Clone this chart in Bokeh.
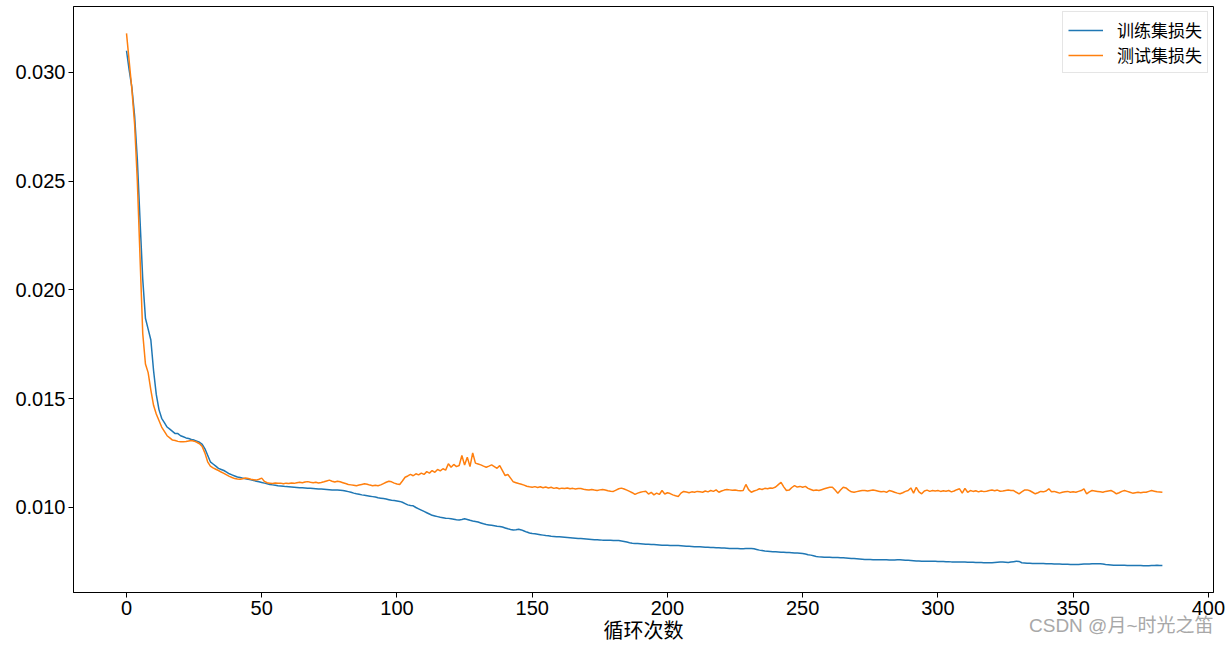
from bokeh.plotting import figure
from bokeh.models import Range1d, FixedTicker, NumeralTickFormatter, Title, Legend, LegendItem
from bokeh.embed import file_html
from bokeh.resources import INLINE

series_names = ["训练集损失", "测试集损失"]
x_label = "循环次数"
watermark = "CSDN @月~时光之笛"
x_ticks = [0, 50, 100, 150, 200, 250, 300, 350, 400]
y_ticks = [0.010, 0.015, 0.020, 0.025, 0.030]

train_loss = [
    0.0310, 0.0301, 0.0293, 0.0280, 0.0260, 0.0232, 0.0205, 0.0187, 0.0182, 0.0177,
    0.0163, 0.0152, 0.0145, 0.0141, 0.0139, 0.0137, 0.0136, 0.0135, 0.0134, 0.0134,
    0.0133, 0.01325, 0.0132, 0.01317, 0.01313, 0.0131, 0.01305, 0.0130, 0.0129, 0.0127,
    0.0124, 0.0121, 0.0120, 0.0119, 0.0118, 0.01175, 0.0117, 0.01163, 0.01155, 0.0115,
    0.01145, 0.0114, 0.01138, 0.01135, 0.01132, 0.0113, 0.01127, 0.01124, 0.01121, 0.01118,
    0.01115, 0.01112, 0.01109, 0.01106, 0.01104, 0.01102, 0.01100, 0.01099, 0.01098, 0.01096,
    0.01095, 0.01094, 0.01093, 0.01092, 0.01091, 0.01091, 0.01090, 0.01089, 0.01088, 0.01087,
    0.01086, 0.01085, 0.01085, 0.01084, 0.01083, 0.01082, 0.01081, 0.01080, 0.01080, 0.01079,
    0.01078, 0.01076, 0.01073, 0.01070, 0.01066, 0.01063, 0.01061, 0.01058, 0.01056, 0.01054,
    0.01052, 0.01050, 0.01048, 0.01045, 0.01043, 0.01041, 0.01039, 0.01036, 0.01033, 0.01032,
    0.01030, 0.01028, 0.01024, 0.01018, 0.01012, 0.01009, 0.01008, 0.01000, 0.00994, 0.00988,
    0.00982, 0.00976, 0.00970, 0.00964, 0.00961, 0.00958, 0.00955, 0.00953, 0.00951, 0.00950,
    0.00948, 0.00946, 0.00944, 0.00943, 0.00945, 0.00948, 0.00945, 0.00941, 0.00938, 0.00936,
    0.00933, 0.00929, 0.00925, 0.00922, 0.00920, 0.00918, 0.00916, 0.00914, 0.00913, 0.00910,
    0.00906, 0.00902, 0.00899, 0.00897, 0.00898, 0.00900, 0.00897, 0.00892, 0.00887, 0.00883,
    0.00880, 0.00879, 0.00877, 0.00875, 0.00873, 0.00871, 0.00870, 0.00868, 0.00867, 0.00866,
    0.00865, 0.00864, 0.00863, 0.00862, 0.00861, 0.00860, 0.00859, 0.00858, 0.00857, 0.00856,
    0.00855, 0.00854, 0.00853, 0.00852, 0.00852, 0.00851, 0.00850, 0.00850, 0.00849, 0.00849,
    0.00848, 0.00848, 0.00848, 0.00846, 0.00844, 0.00841, 0.00838, 0.00836, 0.00835, 0.00834,
    0.00833, 0.00832, 0.00831, 0.00831, 0.00830, 0.00830, 0.00829, 0.00828, 0.00827, 0.00826,
    0.00826, 0.00825, 0.00825, 0.00825, 0.00825, 0.00824, 0.00823, 0.00822, 0.00822, 0.00821,
    0.00820, 0.00819, 0.00819, 0.00818, 0.00817, 0.00817, 0.00816, 0.00816, 0.00815, 0.00815,
    0.00814, 0.00814, 0.00813, 0.00812, 0.00812, 0.00811, 0.00811, 0.00810, 0.00810, 0.00811,
    0.00812, 0.00812, 0.00810, 0.00807, 0.00804, 0.00802, 0.00800, 0.00799, 0.00798, 0.00797,
    0.00796, 0.00795, 0.00794, 0.00794, 0.00793, 0.00793, 0.00792, 0.00791, 0.00791, 0.00790,
    0.00788, 0.00786, 0.00783, 0.00781, 0.00778, 0.00775, 0.00773, 0.00772, 0.00771, 0.00771,
    0.00771, 0.00770, 0.00770, 0.00770, 0.00769, 0.00769, 0.00768, 0.00767, 0.00766, 0.00765,
    0.00764, 0.00763, 0.00762, 0.00761, 0.00761, 0.00761, 0.00760, 0.00760, 0.00760, 0.00760,
    0.00760, 0.00760, 0.00759, 0.00759, 0.00759, 0.00760, 0.00760, 0.00759, 0.00758, 0.00757,
    0.00756, 0.00755, 0.00754, 0.00754, 0.00753, 0.00753, 0.00753, 0.00753, 0.00753, 0.00753,
    0.00752, 0.00752, 0.00752, 0.00751, 0.00751, 0.00750, 0.00750, 0.00750, 0.00749, 0.00749,
    0.00749, 0.00748, 0.00748, 0.00748, 0.00747, 0.00747, 0.00747, 0.00746, 0.00746, 0.00746,
    0.00746, 0.00747, 0.00748, 0.00749, 0.00749, 0.00748, 0.00747, 0.00749, 0.00751, 0.00753,
    0.00752, 0.00746, 0.00745, 0.00744, 0.00744, 0.00743, 0.00743, 0.00742, 0.00742, 0.00742,
    0.00741, 0.00741, 0.00741, 0.00740, 0.00740, 0.00740, 0.00739, 0.00739, 0.00739, 0.00738,
    0.00738, 0.00738, 0.00738, 0.00739, 0.00740, 0.00740, 0.00740, 0.00741, 0.00741, 0.00741,
    0.00741, 0.00740, 0.00738, 0.00737, 0.00736, 0.00735, 0.00735, 0.00734, 0.00734, 0.00734,
    0.00733, 0.00733, 0.00733, 0.00733, 0.00733, 0.00733, 0.00732, 0.00732, 0.00732, 0.00733,
    0.00733, 0.00734, 0.00733, 0.00733,
]

test_loss = [
    0.0318, 0.0305, 0.0292, 0.0276, 0.0250, 0.0215, 0.0180, 0.0166, 0.0162, 0.0154,
    0.0147, 0.0143, 0.0140, 0.0137, 0.0135, 0.0133, 0.0132, 0.0131, 0.01308, 0.01304,
    0.01302, 0.01302, 0.01303, 0.01306, 0.01308, 0.01305, 0.01300, 0.01293, 0.01280, 0.01250,
    0.01210, 0.01190, 0.01182, 0.01176, 0.01170, 0.01163, 0.01157, 0.01150, 0.01143, 0.01138,
    0.01133, 0.01131, 0.01130, 0.01132, 0.01136, 0.01133, 0.01130, 0.01128, 0.01126, 0.01130,
    0.01135, 0.01120, 0.01114, 0.01112, 0.01110, 0.01113, 0.01111, 0.01112, 0.01109, 0.01112,
    0.01110, 0.01113, 0.01111, 0.01114, 0.01116, 0.01114, 0.01117, 0.01119, 0.01116, 0.01114,
    0.01116, 0.01113, 0.01115, 0.01118, 0.01122, 0.01126, 0.01121, 0.01117, 0.01121, 0.01118,
    0.01114, 0.01110, 0.01106, 0.01104, 0.01102, 0.01100, 0.01103, 0.01106, 0.01109, 0.01107,
    0.01103, 0.01100, 0.01102, 0.01100, 0.01104, 0.01110, 0.01116, 0.01121, 0.01118, 0.01112,
    0.01108, 0.01106, 0.01122, 0.01139, 0.01145, 0.01152, 0.01146, 0.01155, 0.01150, 0.01158,
    0.01152, 0.01165, 0.01158, 0.01170, 0.01162, 0.01175, 0.01168, 0.01178, 0.01172, 0.01201,
    0.01185, 0.01198, 0.01188, 0.01193, 0.01239, 0.01195, 0.01231, 0.01188, 0.01251, 0.01204,
    0.01200, 0.01196, 0.01190, 0.01185, 0.01190, 0.01196, 0.01188, 0.01180, 0.01193, 0.01170,
    0.01147, 0.01152, 0.01135, 0.01118, 0.01114, 0.01110, 0.01107, 0.01103, 0.01098, 0.01095,
    0.01093, 0.01096, 0.01092, 0.01095, 0.01091, 0.01094, 0.01090, 0.01093, 0.01088, 0.01091,
    0.01086, 0.01089, 0.01087, 0.01090, 0.01086, 0.01088, 0.01085, 0.01087, 0.01087, 0.01084,
    0.01082, 0.01080, 0.01083, 0.01080, 0.01078, 0.01081, 0.01083, 0.01080, 0.01077, 0.01075,
    0.01074, 0.01080, 0.01086, 0.01089, 0.01085, 0.01080, 0.01074, 0.01068, 0.01060, 0.01066,
    0.01070, 0.01073, 0.01075, 0.01062, 0.01070, 0.01058, 0.01066, 0.01060, 0.01078, 0.01062,
    0.01068, 0.01064, 0.01058, 0.01054, 0.01051, 0.01066, 0.01074, 0.01071, 0.01068, 0.01072,
    0.01070, 0.01074, 0.01072, 0.01070, 0.01076, 0.01072, 0.01078, 0.01074, 0.01081, 0.01070,
    0.01076, 0.01080, 0.01083, 0.01081, 0.01079, 0.01080, 0.01078, 0.01077, 0.01078, 0.01106,
    0.01082, 0.01070, 0.01076, 0.01080, 0.01086, 0.01083, 0.01088, 0.01086, 0.01090, 0.01089,
    0.01094, 0.01105, 0.01116, 0.01095, 0.01078, 0.01080, 0.01092, 0.01101, 0.01094, 0.01097,
    0.01093, 0.01097, 0.01088, 0.01083, 0.01078, 0.01080, 0.01078, 0.01082, 0.01086, 0.01090,
    0.01093, 0.01093, 0.01080, 0.01066, 0.01080, 0.01093, 0.01090, 0.01080, 0.01072, 0.01070,
    0.01073, 0.01076, 0.01078, 0.01078, 0.01076, 0.01078, 0.01080, 0.01078, 0.01075, 0.01072,
    0.01074, 0.01070, 0.01078, 0.01075, 0.01070, 0.01066, 0.01063, 0.01068, 0.01074, 0.01078,
    0.01090, 0.01066, 0.01093, 0.01072, 0.01063, 0.01076, 0.01080, 0.01074, 0.01078, 0.01076,
    0.01078, 0.01074, 0.01077, 0.01075, 0.01078, 0.01072, 0.01076, 0.01082, 0.01086, 0.01066,
    0.01088, 0.01070, 0.01078, 0.01074, 0.01077, 0.01072, 0.01076, 0.01073, 0.01075, 0.01078,
    0.01080, 0.01077, 0.01080, 0.01075, 0.01076, 0.01078, 0.01080, 0.01078, 0.01078, 0.01070,
    0.01063, 0.01072, 0.01080, 0.01081, 0.01077, 0.01070, 0.01063, 0.01068, 0.01074, 0.01072,
    0.01076, 0.01086, 0.01072, 0.01074, 0.01070, 0.01066, 0.01070, 0.01072, 0.01074, 0.01070,
    0.01072, 0.01070, 0.01074, 0.01078, 0.01086, 0.01063, 0.01072, 0.01078, 0.01076, 0.01074,
    0.01072, 0.01070, 0.01074, 0.01076, 0.01078, 0.01072, 0.01063, 0.01068, 0.01074, 0.01078,
    0.01074, 0.01070, 0.01066, 0.01068, 0.01070, 0.01068, 0.01070, 0.01070, 0.01074, 0.01078,
    0.01075, 0.01072, 0.01071, 0.01070,
]

train_x = list(range(len(train_loss)))
test_x = list(range(len(test_loss)))

X0, X1 = -19.6, 401.9
Y0, Y1 = 0.006092, 0.033034

CJK = "Noto Sans CJK SC"
LAT = "Liberation Sans"
MIX = "Liberation Sans, Noto Sans CJK SC"

p = figure(width=1230, height=644, output_backend="svg", toolbar_location=None,
           x_range=Range1d(X0, X1), y_range=Range1d(Y0, Y1),
           min_border_left=73, min_border_right=17, min_border_top=6, min_border_bottom=52)
p.title.visible = False
p.background_fill_color = "white"
p.border_fill_color = "white"
p.outline_line_color = "black"
p.outline_line_width = 1
p.xgrid.visible = False
p.ygrid.visible = False

r1 = p.line(train_x, train_loss, line_color="#1f77b4", line_width=1.5)
r2 = p.line(test_x, test_loss, line_color="#ff7f0e", line_width=1.5)

for ax in (p.xaxis[0], p.yaxis[0]):
    ax.axis_line_color = "black"
    ax.major_tick_line_color = "black"
    ax.major_tick_out = 5
    ax.major_tick_in = 0
    ax.minor_tick_out = 0
    ax.minor_tick_in = 0
    ax.major_label_text_font = LAT
    ax.major_label_text_font_size = "20px"
    ax.major_label_text_color = "black"
    ax.major_label_standoff = 3

p.xaxis.ticker = FixedTicker(ticks=x_ticks)
p.yaxis.ticker = FixedTicker(ticks=y_ticks)
p.yaxis.formatter = NumeralTickFormatter(format="0.000")

xa = p.xaxis[0]
xa.axis_label = x_label
xa.axis_label_text_font = MIX
xa.axis_label_text_font_size = "20px"
xa.axis_label_text_font_style = "normal"
xa.axis_label_text_color = "black"
xa.axis_label_standoff = 2

legend = Legend(items=[LegendItem(label=series_names[0], renderers=[r1]),
                       LegendItem(label=series_names[1], renderers=[r2])],
                location="top_right", margin=5, padding=5, spacing=0,
                glyph_width=35, glyph_height=24, label_standoff=14,
                label_text_font=MIX, label_text_font_size="17px",
                label_text_color="black", label_height=24,
                border_line_color="#cccccc", border_line_width=1,
                background_fill_color="white", background_fill_alpha=0.8)
p.add_layout(legend)

# watermark, placed in the bottom panel and pulled up beside the axis label
wm = Title(text=watermark, align="right", vertical_align="top", standoff=-60,
           text_font=MIX, text_font_size="19px", text_font_style="normal",
           text_color="#a8a8a8")
p.add_layout(wm, "below")

open("out.html", "w").write(file_html(p, INLINE))
